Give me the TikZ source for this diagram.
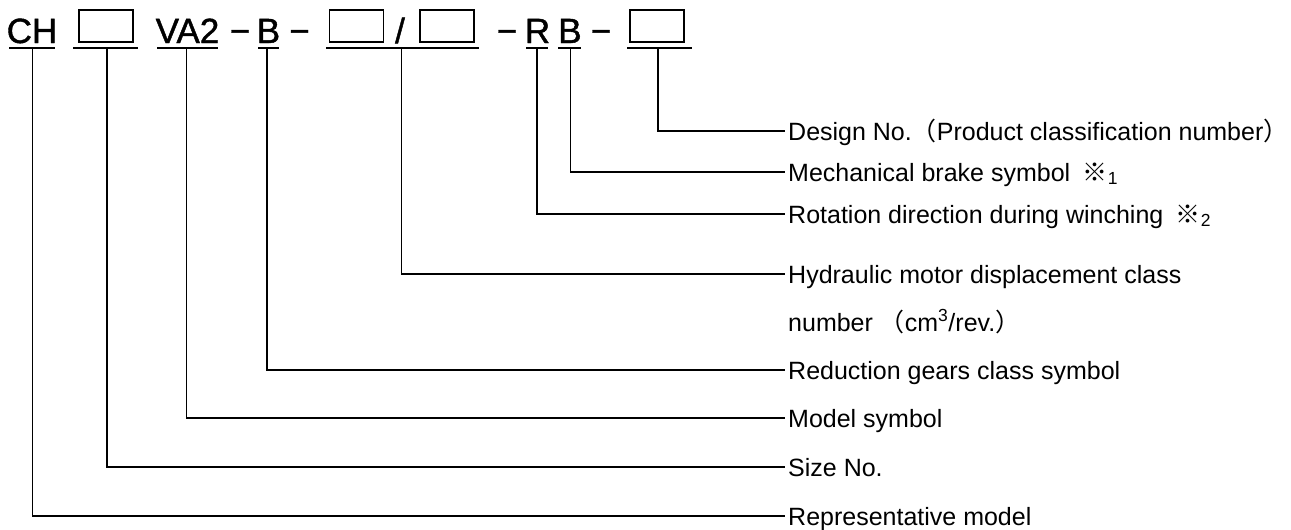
\documentclass[tikz,border=0pt]{standalone}
\usepackage{fontspec}
\setmainfont{Liberation Sans}
\newfontfamily\codefont[FakeBold=1.2]{Liberation Sans}
\newfontfamily\cjk{Noto Sans CJK JP}
\begin{document}
\begin{tikzpicture}[x=1pt,y=-1pt,
  lbl/.style={anchor=base west, inner sep=0pt, font=\fontsize{25}{29}\selectfont},
  code/.style={anchor=base, inner sep=0pt, font=\codefont\fontsize{35}{40}\selectfont},
  slot/.style={draw, line width=1.6pt, minimum width=54pt, minimum height=32pt, inner sep=0pt},
  uline/.style={line width=1.8pt},
  lead/.style={line width=1.5pt}]
\useasboundingbox (0,0) rectangle (1291,530);

% code row
\node[code] (tCH) at (32,43) {CH};
\node[slot] (s1) at (106,26) {};
\node[code] (tVA) at (187.5,43) {VA2};
\node[code] (d1) at (240,43) {−};
\node[code] (tB1) at (268.5,43) {B};
\node[code] (d2) at (299.5,43) {−};
\node[slot] (s2) at (356.5,26) {};
\node[code] (sl) at (400,43) {/};
\node[slot] (s3) at (447,26) {};
\node[code] (d3) at (507,43) {−};
\node[code] (tR) at (537.5,43) {R};
\node[code] (tB2) at (570,43) {B};
\node[code] (d4) at (601,43) {−};
\node[slot] (s4) at (657,26) {};

% underlines
\coordinate (u1a) at (9,48);   \coordinate (u1b) at (55,48);
\coordinate (u2a) at (73,48);  \coordinate (u2b) at (138,48);
\coordinate (u3a) at (157,48); \coordinate (u3b) at (218,48);
\coordinate (u4a) at (258,48); \coordinate (u4b) at (279,48);
\coordinate (u5a) at (326,48); \coordinate (u5b) at (479,48);
\coordinate (u6a) at (526,48); \coordinate (u6b) at (548,48);
\coordinate (u7a) at (558,48); \coordinate (u7b) at (581,48);
\coordinate (u8a) at (627,48); \coordinate (u8b) at (692,48);
\foreach \i in {1,...,8} {\draw[uline] (u\i a) -- (u\i b);}

% leader start points
\coordinate (v1) at (32.5,48);
\coordinate (v2) at (107,48);
\coordinate (v3) at (186.5,48);
\coordinate (v4) at (267,48);
\coordinate (v5) at (401.5,48);
\coordinate (v6) at (537,48);
\coordinate (v7) at (570.5,48);
\coordinate (v8) at (658,48);

% leader end points
\coordinate (e8) at (785,131);
\coordinate (e7) at (785,172);
\coordinate (e6) at (785,214);
\coordinate (e5) at (785,274);
\coordinate (e4) at (785,370);
\coordinate (e3) at (785,418);
\coordinate (e2) at (785,467);
\coordinate (e1) at (785,516);

% labels
\node[lbl] (l8) at (788,140) {Design No.{\cjk （}Product classification number{\cjk ）}};
\node[lbl] (l7) at (788,181) {Mechanical brake symbol\enspace{\cjk\bfseries ※}\textsubscript{1}};
\node[lbl] (l6) at (788,223) {Rotation direction during winching\enspace{\cjk\bfseries ※}\textsubscript{2}};
\node[lbl] (l5) at (788,283) {Hydraulic motor displacement class};
\node[lbl] (l5b) at (788,331) {number {\cjk （}cm\textsuperscript{3}/rev.{\cjk ）}};
\node[lbl] (l4) at (788,379) {Reduction gears class symbol};
\node[lbl] (l3) at (788,427) {Model symbol};
\node[lbl] (l2) at (788,476) {Size No.};
\node[lbl] (l1) at (788,525) {Representative model};

\foreach \i in {1,...,8} {\draw[lead] (v\i) |- (e\i);}
\end{tikzpicture}
\end{document}
